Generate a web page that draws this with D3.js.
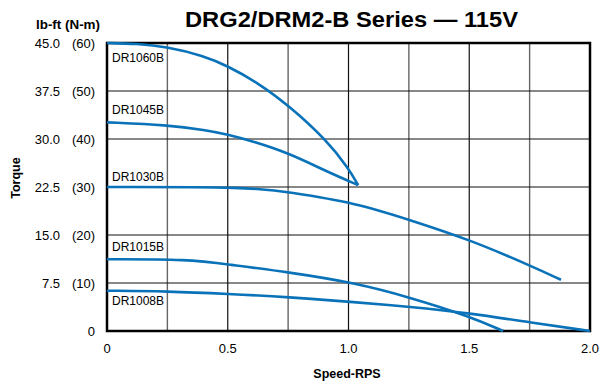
<!DOCTYPE html>
<html>
<head>
<meta charset="utf-8">
<script src="https://cdn.jsdelivr.net/npm/d3@7"></script>
<style>
  body { margin: 0; background: #fff; }
  text { font-family: Arial, "Liberation Sans", sans-serif; fill: #000; }
</style>
</head>
<body>
<svg id="chart" width="600" height="385"></svg>
<script>
// tick values and labels
const torqueTicks = [0, 7.5, 15, 22.5, 30, 37.5, 45];
const torqueLabels = ["", "7.5", "15.0", "22.5", "30.0", "37.5", "45.0"];
const nmLabels = ["0", "(10)", "(20)", "(30)", "(40)", "(50)", "(60)"];
const speedTicks = [0, 0.5, 1.0, 1.5, 2.0];
const speedLabels = ["0", "0.5", "1.0", "1.5", "2.0"];
const speedGrid = [0.25, 0.5, 0.75, 1.0, 1.25, 1.5, 1.75];

// series: names and [speed, torque] points
const seriesNames = ["DR1060B", "DR1045B", "DR1030B", "DR1015B", "DR1008B"];
const dr1060 = [[0, 45], [0.12, 44.9], [0.25, 44.4], [0.4, 43.0], [0.5, 41.4], [0.62, 38.9], [0.754, 35.2], [0.91, 29.8], [1.0, 25.4], [1.04, 22.8]];
const dr1045 = [[0, 32.6], [0.25, 32.2], [0.41, 31.4], [0.5, 30.7], [0.59, 29.8], [0.754, 27.8], [0.91, 24.9], [1.04, 22.8]];
const dr1030 = [[0, 22.5], [0.6, 22.5], [0.75, 21.7], [1.03, 20.0], [1.25, 17.4], [1.5, 14.3], [1.76, 10.1], [1.88, 8.0]];
const dr1015 = [[0, 11.2], [0.34, 11.2], [0.5, 10.4], [0.75, 9.2], [1.03, 7.5], [1.25, 5.3], [1.5, 2.3], [1.64, 0]];
const dr1008 = [[0, 6.3], [0.25, 6.2], [0.5, 5.8], [0.75, 5.3], [1.03, 4.5], [1.25, 3.8], [1.5, 2.8], [1.76, 1.3], [2.0, 0]];
const seriesData = [dr1060, dr1045, dr1030, dr1015, dr1008];
const labelTorque = [42.0, 33.9, 23.5, 12.5, 4.0];

const svg = d3.select("#chart");

const x = d3.scaleLinear().domain([0, 2]).range([107, 590]);
const y = d3.scaleLinear().domain([0, 45]).range([331, 43]);

// grid
svg.append("g").selectAll("line")
    .data(speedGrid)
    .enter().append("line")
    .attr("x1", d => x(d)).attr("x2", d => x(d))
    .attr("y1", y(45)).attr("y2", y(0))
    .attr("stroke", d => (d * 2) % 1 === 0 ? "#111" : "#666")
    .attr("stroke-width", d => (d * 2) % 1 === 0 ? 1.2 : 1.4);

svg.append("g").selectAll("line")
    .data(torqueTicks.slice(1, -1))
    .enter().append("line")
    .attr("x1", x(0)).attr("x2", x(2))
    .attr("y1", d => y(d)).attr("y2", d => y(d))
    .attr("stroke", "#111")
    .attr("stroke-width", 1.2);

// frame
svg.append("rect")
    .attr("x", x(0)).attr("y", y(45))
    .attr("width", x(2) - x(0)).attr("height", y(0) - y(45))
    .attr("fill", "none")
    .attr("stroke", "#000")
    .attr("stroke-width", 2.5);

// curves
const line = d3.line()
    .x(d => x(d[0]))
    .y(d => y(d[1]))
    .curve(d3.curveBasis);

svg.append("g").selectAll("path")
    .data(seriesData)
    .enter().append("path")
    .attr("d", line)
    .attr("fill", "none")
    .attr("stroke", "#0a72b8")
    .attr("stroke-width", 2.6);

// series labels
svg.append("g").selectAll("text")
    .data(seriesNames)
    .enter().append("text")
    .attr("x", x(0) + 5)
    .attr("y", (d, i) => y(labelTorque[i]))
    .attr("font-size", 12)
    .text(d => d);

// y tick labels
svg.append("g").selectAll("text")
    .data(torqueTicks)
    .enter().append("text")
    .attr("x", 60)
    .attr("y", d => y(d) + 5)
    .attr("text-anchor", "end")
    .attr("font-size", 13)
    .text((d, i) => torqueLabels[i]);

svg.append("g").selectAll("text")
    .data(torqueTicks)
    .enter().append("text")
    .attr("x", 95)
    .attr("y", d => y(d) + 5)
    .attr("text-anchor", "end")
    .attr("font-size", 13)
    .text((d, i) => nmLabels[i]);

// x tick labels
svg.append("g").selectAll("text")
    .data(speedTicks)
    .enter().append("text")
    .attr("x", d => x(d))
    .attr("y", 353)
    .attr("text-anchor", "middle")
    .attr("font-size", 13)
    .text((d, i) => speedLabels[i]);

// titles
svg.append("text")
    .attr("x", 185).attr("y", 27)
    .attr("font-size", 22)
    .attr("font-weight", "bold")
    .attr("textLength", 333)
    .attr("lengthAdjust", "spacingAndGlyphs")
    .text("DRG2/DRM2-B Series \u2014 115V");

svg.append("text")
    .attr("x", 36).attr("y", 29)
    .attr("font-size", 12.5)
    .attr("font-weight", "bold")
    .attr("textLength", 64)
    .attr("lengthAdjust", "spacingAndGlyphs")
    .text("lb-ft (N-m)");

svg.append("text")
    .attr("x", 347).attr("y", 378)
    .attr("text-anchor", "middle")
    .attr("font-size", 12.5)
    .attr("font-weight", "bold")
    .text("Speed-RPS");

svg.append("text")
    .attr("transform", "translate(20,178) rotate(-90)")
    .attr("text-anchor", "middle")
    .attr("font-size", 12.5)
    .attr("font-weight", "bold")
    .text("Torque");
</script>
</body>
</html>
